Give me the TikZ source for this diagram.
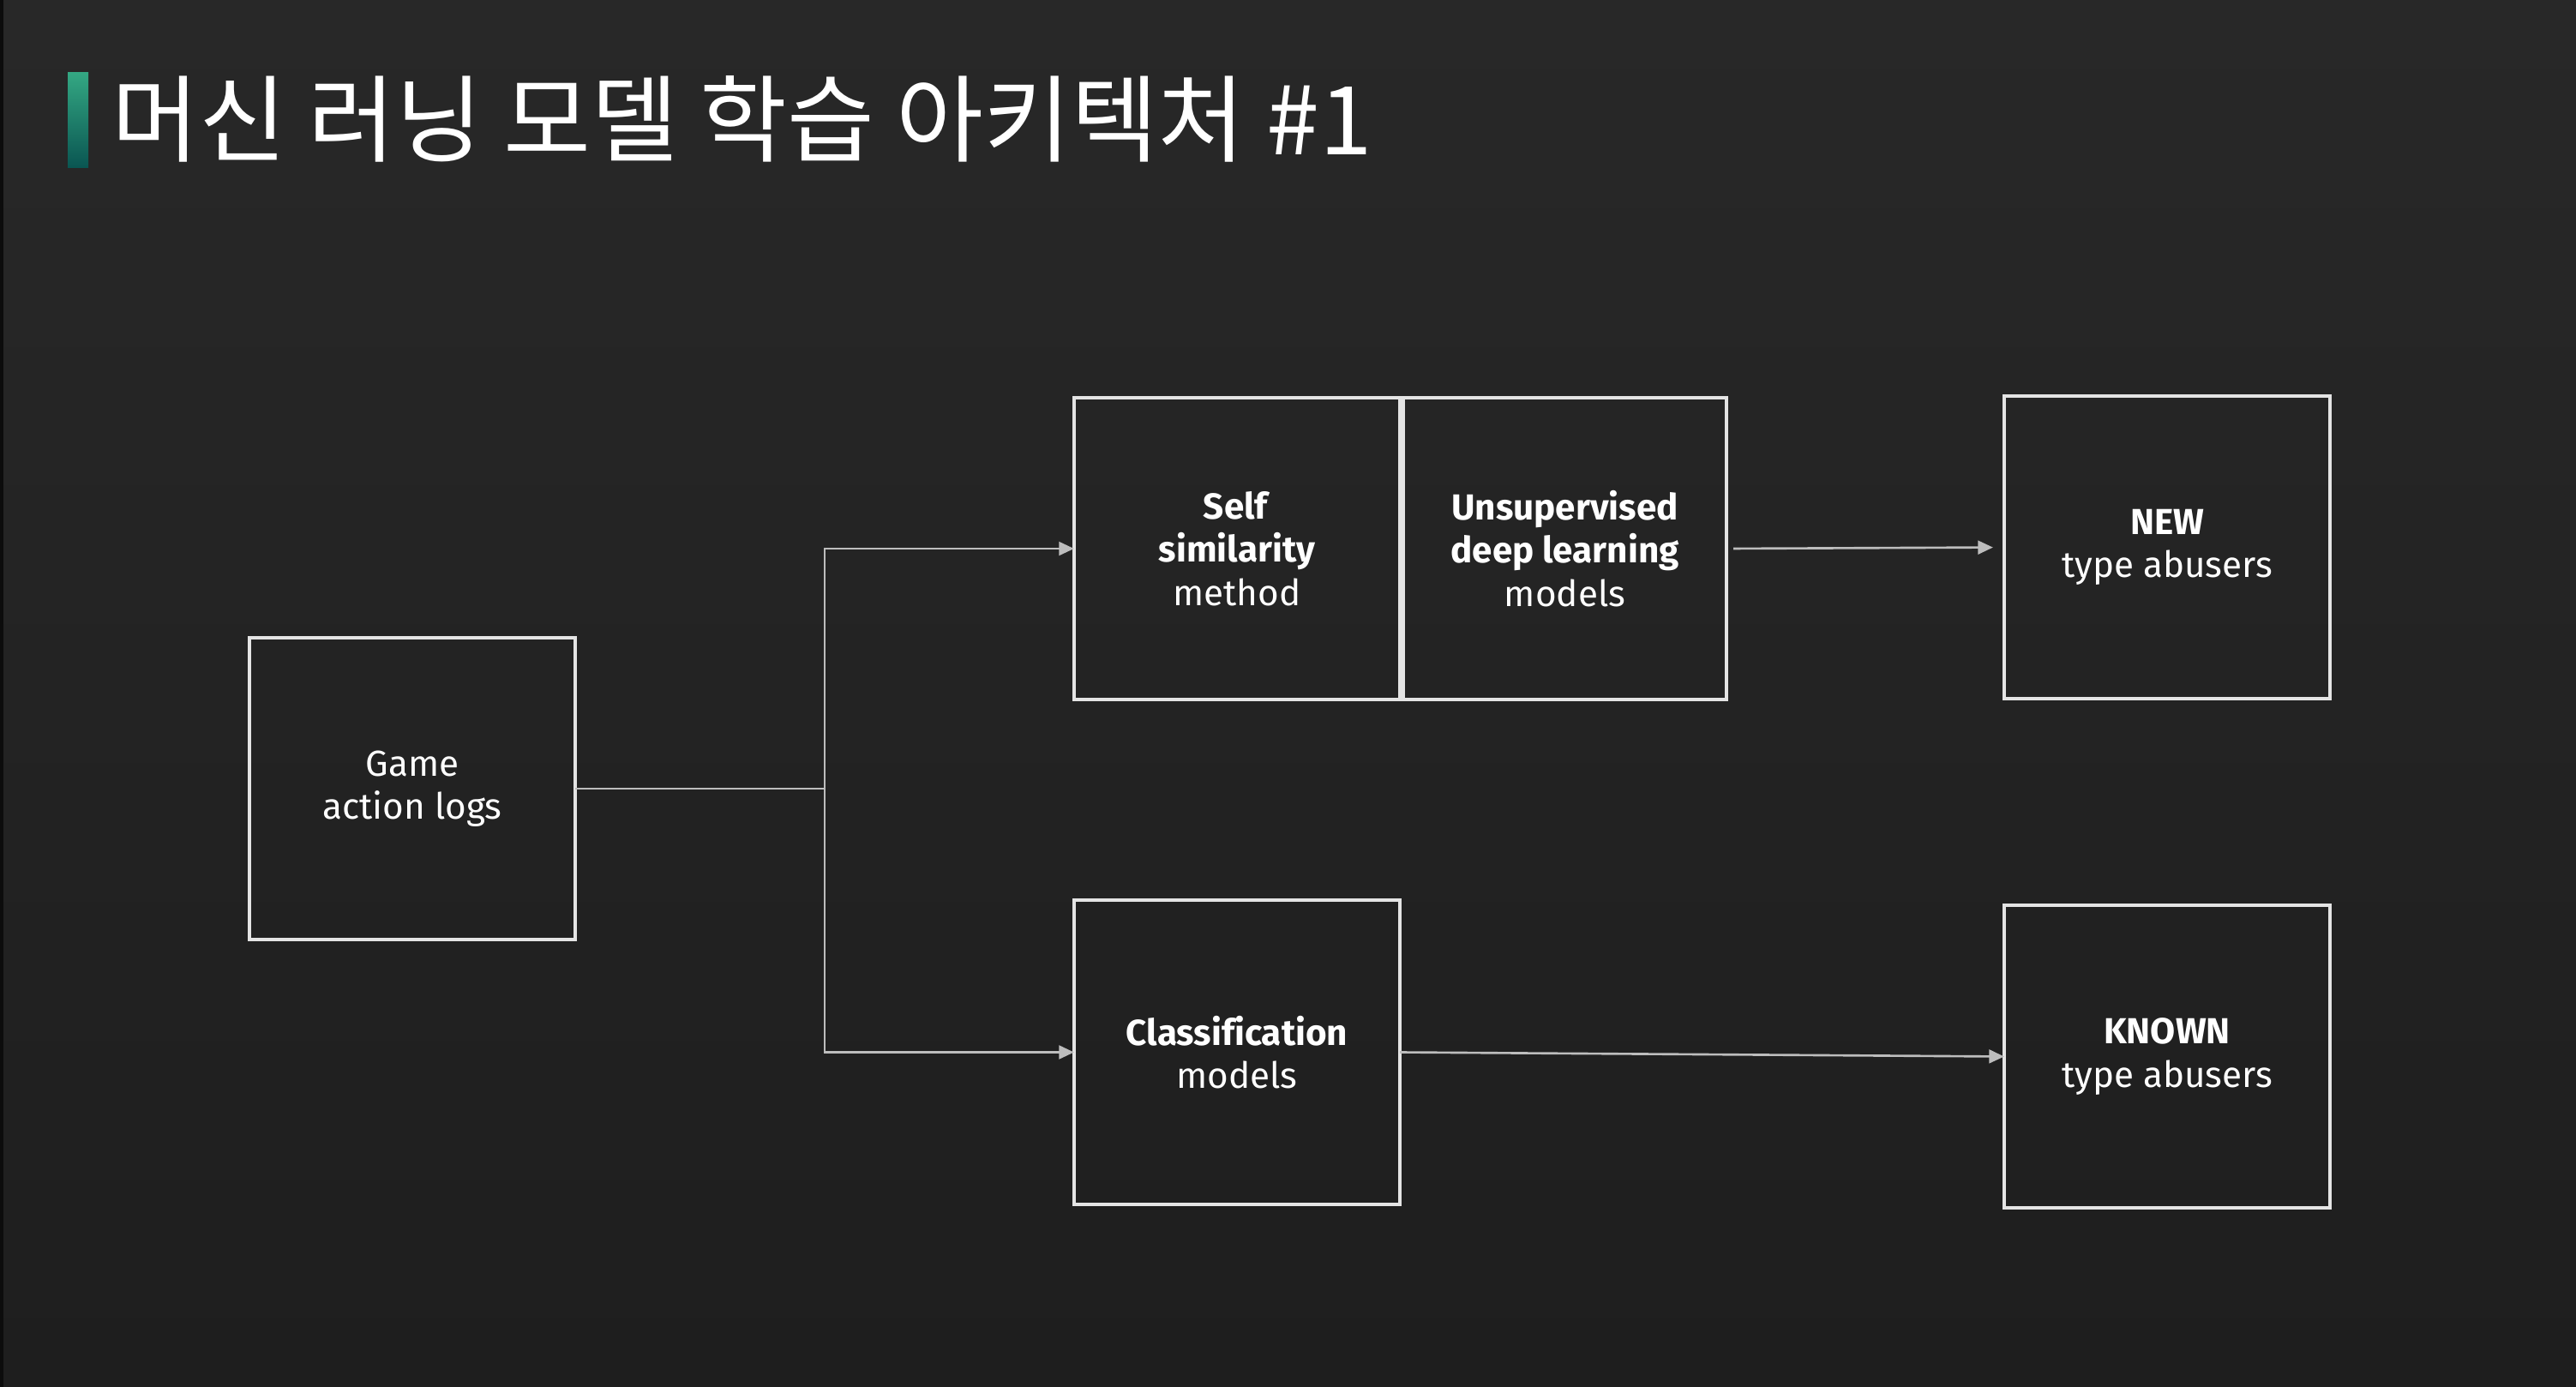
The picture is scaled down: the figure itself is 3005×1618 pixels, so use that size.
\documentclass[tikz,border=0pt]{standalone}
\usepackage{fontspec}
\setmainfont{Fira Sans}[Ligatures=CommonOff]
\newfontfamily\krfont{Noto Sans CJK KR}
\usetikzlibrary{arrows.meta}
\definecolor{bgtop}{HTML}{282828}
\definecolor{bgbot}{HTML}{1E1E1E}
\definecolor{boxline}{HTML}{E4E4E4}
\definecolor{connline}{HTML}{BDBDBD}
\definecolor{bartop}{HTML}{34A883}
\definecolor{barbot}{HTML}{0A5652}
\tikzset{
  box/.style={draw=boxline, line width=1.1pt, rectangle, minimum width=3.8cm, minimum height=3.52cm,
    align=center, text=white, font=\fontsize{12}{14.3}\selectfont, inner sep=0pt, outer sep=0pt},
  conn/.style={draw=connline, line width=0.75pt},
  arr/.style={conn, -{Triangle[length=5pt,width=4.5pt]}}
}
\begin{document}
\begin{tikzpicture}[x=0.01cm,y=-0.01cm]
\useasboundingbox (0,0) rectangle (3005,1618);
\shade[top color=bgtop, bottom color=bgbot] (0,0) rectangle (3005,1618);
\fill[black!60!bgbot] (0,0) rectangle (4,1618);
% title
\shade[top color=bartop, bottom color=barbot] (79,84) rectangle (103,195);
\node[anchor=base west, text=white, inner sep=0pt, font=\krfont\fontsize{31.5}{36}\selectfont] (title) at (130,180) {머신 러닝 모델 학습 아키텍처 \#1};
% boxes
\node[box] (game) at (481,920) {Game\\action logs};
\node[box] (self) at (1443,640) {\textbf{Self}\\\textbf{similarity}\\method};
\node[box, minimum width=3.77cm] (unsup) at (1825.5,640) {\textbf{Unsupervised}\\\textbf{deep learning}\\models};
\node[box, minimum height=3.53cm] (new) at (2528,638.5) {\textbf{NEW}\\type abusers};
\node[box, minimum height=3.55cm] (class) at (1443,1227.5) {\textbf{Classification}\\models};
\node[box, minimum height=3.53cm] (known) at (2528,1232.5) {\textbf{KNOWN}\\type abusers};
% connectors
\coordinate (j) at (962,920);
\draw[conn] (game.east) -- (j);
\draw[arr] (j) |- (self.west);
\draw[arr] (j) |- (class.west);
\draw[arr, shorten <=0.08cm, shorten >=0.13cm] (unsup.east) -- (new.west);
\draw[arr] (class.east) -- (known.west);
\end{tikzpicture}
\end{document}
